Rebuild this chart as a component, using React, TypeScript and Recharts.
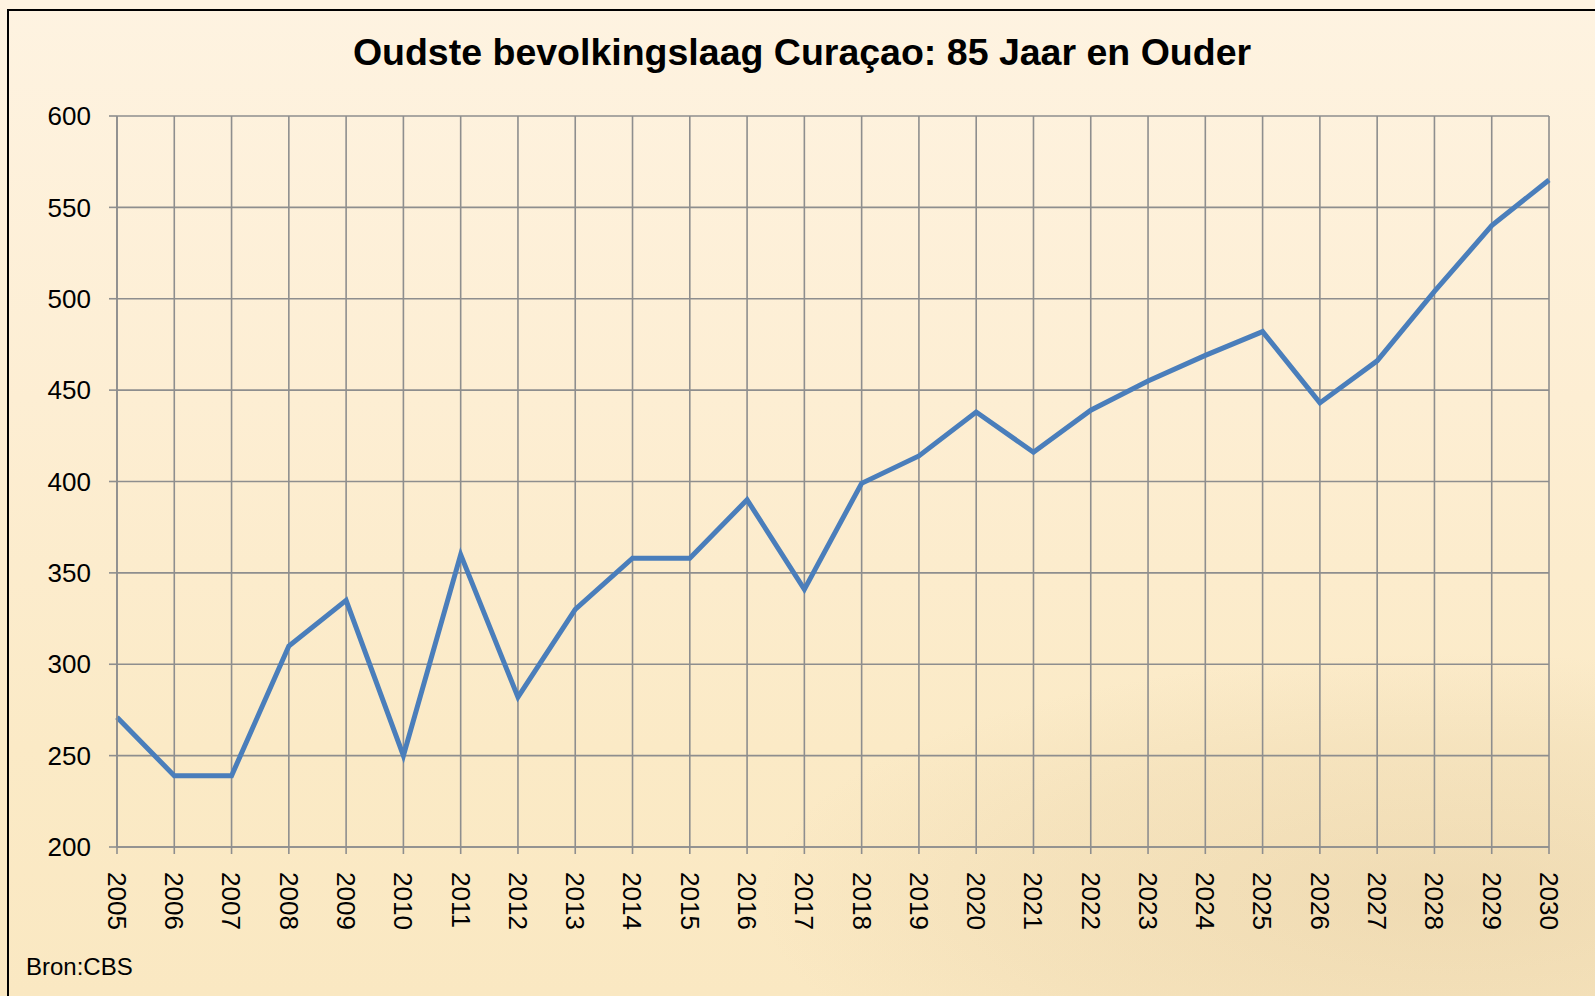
import { LineChart, Line, XAxis, YAxis, CartesianGrid } from "recharts";

const years = [
  "2005", "2006", "2007", "2008", "2009", "2010", "2011", "2012", "2013",
  "2014", "2015", "2016", "2017", "2018", "2019", "2020", "2021", "2022",
  "2023", "2024", "2025", "2026", "2027", "2028", "2029", "2030",
];

const persons = [
  271, 239, 239, 310, 335, 250, 360, 282, 330, 358, 358, 390, 341, 399, 414,
  438, 416, 439, 455, 469, 482, 443, 466, 504, 540, 565,
];

const yTicks = [200, 250, 300, 350, 400, 450, 500, 550, 600];

const data = years.map((year, i) => ({ year, value: persons[i] }));

const FONT = '"Liberation Sans", Arial, sans-serif';
const GRID = "#8e8e8e";

function YearTick(props: any) {
  const { x, y, payload } = props;
  return (
    <g transform={`translate(${x},${y})`}>
      <text
        transform="rotate(90)"
        textAnchor="start"
        dy="0.35em"
        fontSize={26}
        fontFamily={FONT}
        fill="#000"
      >
        {payload.value}
      </text>
    </g>
  );
}

export default function App() {
  return (
    <div
      style={{
        position: "absolute",
        left: 0,
        top: 0,
        width: 1595,
        height: 996,
        overflow: "hidden",
        background: "linear-gradient(180deg, #fef3e1 0%, #fdeed3 40%, #fbeac6 75%, #faE8c2 100%)",
        fontFamily: FONT,
      }}
    >
      {/* faint sepia watermark in the lower right */}
      <div
        style={{
          position: "absolute",
          left: 750,
          top: 650,
          width: 1000,
          height: 450,
          background:
            "radial-gradient(ellipse at 70% 55%, rgba(200,170,120,0.22) 0%, rgba(200,170,120,0.1) 45%, rgba(200,170,120,0) 70%)",
        }}
      />
      <div
        style={{
          position: "absolute",
          left: 7,
          top: 9,
          width: 1700,
          height: 1100,
          borderLeft: "2px solid #000",
          borderTop: "2px solid #000",
        }}
      />
      <div
        style={{
          position: "absolute",
          left: 302,
          top: 34,
          width: 1000,
          textAlign: "center",
          fontSize: 37.5,
          fontWeight: "bold",
          lineHeight: 1,
          color: "#000",
        }}
      >
        Oudste bevolkingslaag Curaçao: 85 Jaar en Ouder
      </div>
      <div
        style={{
          position: "absolute",
          left: 26,
          top: 955,
          fontSize: 24,
          lineHeight: 1,
          color: "#000",
        }}
      >
        Bron:CBS
      </div>
      <div style={{ position: "absolute", left: 0, top: 0 }}>
        <LineChart
          width={1595}
          height={996}
          data={data}
          margin={{ top: 116, right: 46, bottom: 49, left: 0 }}
        >
          <CartesianGrid stroke={GRID} strokeWidth={1.6} />
          <XAxis
            dataKey="year"
            interval={0}
            height={100}
            tick={<YearTick />}
            tickSize={7}
            tickMargin={18}
            tickLine={{ stroke: GRID, strokeWidth: 1.6 }}
            axisLine={{ stroke: GRID, strokeWidth: 1.6 }}
          />
          <YAxis
            type="number"
            domain={[200, 600]}
            ticks={yTicks}
            width={117}
            tickSize={8}
            tickMargin={18}
            tick={{ fill: "#000", fontSize: 26, fontFamily: FONT }}
            tickLine={{ stroke: GRID, strokeWidth: 1.6 }}
            axisLine={{ stroke: GRID, strokeWidth: 1.6 }}
          />
          <Line
            type="linear"
            dataKey="value"
            stroke="#4a7ebb"
            strokeWidth={5}
            dot={false}
            isAnimationActive={false}
          />
        </LineChart>
      </div>
    </div>
  );
}
